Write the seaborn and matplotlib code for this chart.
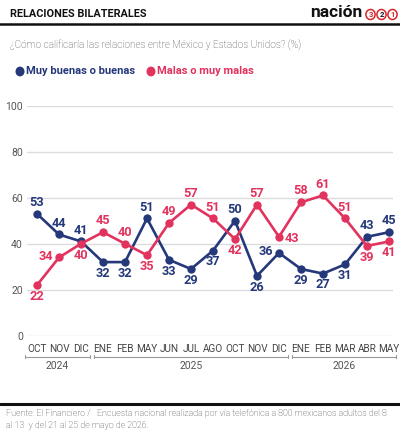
import matplotlib
matplotlib.use("Agg")
import matplotlib.pyplot as plt
import matplotlib.transforms as mtrans
from matplotlib.patches import Circle
import seaborn as sns
import pandas as pd

# ---- data ----
months = ["OCT", "NOV", "DIC", "ENE", "FEB", "MAY", "JUN", "JUL", "AGO",
          "OCT", "NOV", "DIC", "ENE", "FEB", "MAR", "ABR", "MAY"]
years = ["2024", "2025", "2026"]
year_counts = [3, 9, 5]
buenas = [53, 44, 41, 32, 32, 51, 33, 29, 37, 50, 26, 36, 29, 27, 31, 43, 45]
malas = [22, 34, 40, 45, 40, 35, 49, 57, 51, 42, 57, 43, 58, 61, 51, 39, 41]
series_names = ["Muy buenas o buenas", "Malas o muy malas"]
# label placement per point: a=above, b=below, l=left, r=right
pos_buenas = list("aaabbabbbabl" "bbbaa")
pos_malas = list("blbaabaaabar" "aaabb")

BLUE = "#25397a"
PINK = "#e2335f"
RED = "#d9262b"
GRAY = "#555555"

sns.set_theme(style="white")
plt.rcParams["font.family"] = ["Roboto", "DejaVu Sans"]

W, H = 400, 436
fig = plt.figure(figsize=(W / 100, H / 100), dpi=100)

def fx(x):
    return x / W

def fy(y):
    return 1 - y / H

# axes geometry in pixels
left_px, right_px = 27, 393
top_px, bot_px = 105.7, 335.7
ax = fig.add_axes([fx(left_px), fy(bot_px), fx(right_px - left_px), (bot_px - top_px) / H])
x0_px, step_px = 37, 22
ax.set_xlim((left_px - x0_px) / step_px, (right_px - x0_px) / step_px)
ax.set_ylim(0, 100)

n = len(months)
df = pd.DataFrame({
    "idx": list(range(n)) * 2,
    "val": buenas + malas,
    "serie": [series_names[0]] * n + [series_names[1]] * n,
})
sns.lineplot(data=df, x="idx", y="val", hue="serie",
             palette={series_names[0]: BLUE, series_names[1]: PINK},
             marker="o", markersize=6, markeredgewidth=0, linewidth=1.9,
             legend=False, ax=ax, zorder=3)
for ln in ax.lines:
    ln.set_clip_on(False)

# data labels
def add_labels(vals, poss, color):
    for i, (v, p) in enumerate(zip(vals, poss)):
        if p == "a":
            off, ha, va = (0, 3.5), "center", "bottom"
        elif p == "b":
            off, ha, va = (0, -3.5), "center", "top"
        elif p == "l":
            off, ha, va = (-4, 1), "right", "center"
        else:
            off, ha, va = (4, -1), "left", "center"
        ax.annotate(str(v), (i, v), xytext=off, textcoords="offset points",
                    ha=ha, va=va, color=color, fontsize=9.2, fontweight="bold",
                    zorder=5)

add_labels(buenas, pos_buenas, BLUE)
add_labels(malas, pos_malas, PINK)

# axes styling
for s in ax.spines.values():
    s.set_visible(False)
ax.set_yticks(range(0, 101, 20))
ax.yaxis.grid(True, color="#dcdcdc", linewidth=1)
ax.xaxis.grid(False)
ax.set_xticks(range(n))
ax.set_xticklabels(months)
ax.tick_params(axis="x", length=0, pad=6, labelsize=7.2, labelcolor="#444444")
ax.tick_params(axis="y", length=0, pad=3, labelsize=7.5, labelcolor=GRAY)
ax.set_xlabel("")
ax.set_ylabel("")

# year brackets
bt = mtrans.blended_transform_factory(ax.transData, fig.transFigure)
start = 0
edges_left = (25 - x0_px) / step_px
edges_right = (396 - x0_px) / step_px
gap = 2 / step_px
for k, (yr, cnt) in enumerate(zip(years, year_counts)):
    a = start - 0.5 + gap if k > 0 else edges_left
    b = start + cnt - 0.5 - gap if k < len(years) - 1 else edges_right
    yb = fy(356.5)
    fig.add_artist(plt.Line2D([a, b], [yb, yb], transform=bt, color="#999999", lw=0.8))
    for e in (a, b):
        fig.add_artist(plt.Line2D([e, e], [yb - 1.5 / H, yb + 1.5 / H], transform=bt,
                                  color="#999999", lw=0.8))
    fig.text((a + b) / 2, fy(366), yr, transform=bt, ha="center", va="center",
             fontsize=7.5, color=GRAY)
    start += cnt

# header
fig.text(fx(10), fy(14), "RELACIONES BILATERALES", fontsize=7.8, fontweight="bold",
         color="#111111", ha="left", va="center")
fig.add_artist(plt.Line2D([0, 1], [fy(24.5), fy(24.5)], color="#111111", lw=1.8))
fig.text(fx(362), fy(12.5), "nación", fontsize=12.5, fontweight="bold",
         color="#111111", ha="right", va="center")
for j, d in enumerate(["3", "2", "1"]):
    cx, cy = 370.5 + j * 11, 14.5
    fig.add_artist(Circle((fx(cx), fy(cy)), 4.6 / W, transform=fig.transFigure,
                          fc="white", ec=RED, lw=1.1))
    fig.text(fx(cx), fy(cy), d, fontsize=5.5, fontweight="bold",
             color="#111111" if d == "2" else RED, ha="center", va="center")

fig.text(fx(10), fy(45), "¿Cómo calificaría las relaciones entre México y Estados Unidos? (%)",
         fontsize=7.2, color="#444444", ha="left", va="center", fontweight="light")

# legend
for cx, name, col in [(20, series_names[0], BLUE), (151, series_names[1], PINK)]:
    fig.add_artist(Circle((fx(cx), fy(71.5)), 4.5 / W, transform=fig.transFigure,
                          fc=col, ec="none"))
    fig.text(fx(cx + 6), fy(71), name, fontsize=8, fontweight="bold", color=col,
             ha="left", va="center")

# footer
fig.add_artist(plt.Line2D([0, 1], [fy(403.5), fy(403.5)], color="#111111", lw=2.2))
fig.text(fx(6), fy(413), "Fuente: El Financiero /   Encuesta nacional realizada por vía telefónica a 800 mexicanos adultos del 8",
         fontsize=6.4, color="#3a3a3a", ha="left", va="center", fontweight="light")
fig.text(fx(6), fy(425), "al 13  y del 21 al 25 de mayo de 2026.",
         fontsize=6.4, color="#3a3a3a", ha="left", va="center", fontweight="light")

fig.savefig("out.png", dpi=100, facecolor="white")
